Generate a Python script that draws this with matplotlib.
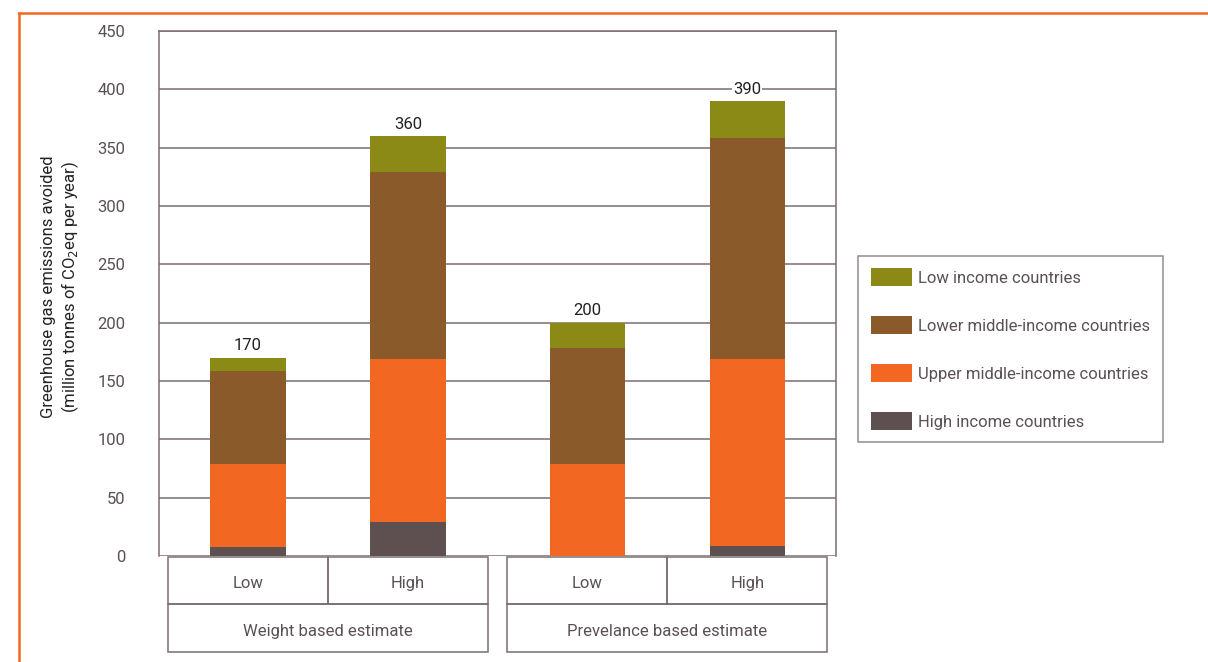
import numpy as np
import matplotlib
matplotlib.use("Agg")
import matplotlib.pyplot as plt
from matplotlib.lines import Line2D
from matplotlib.patches import Rectangle
import matplotlib.transforms as mtransforms

plt.rcParams['font.family'] = ['Roboto', 'DejaVu Sans']

# data (million tonnes CO2eq per year)
scenarios = ["Low", "High", "Low", "High"]
groups = ["Weight based estimate", "Prevelance based estimate"]
group_of = [0, 0, 1, 1]
series_names = ["High income countries", "Upper middle-income countries",
                "Lower middle-income countries", "Low income countries"]
high_income = [8, 29, 0, 9]
upper_middle = [71, 140, 79, 160]
lower_middle = [80, 160, 99, 189]
low_income = [11, 31, 22, 32]
totals = [170, 360, 200, 390]

colors = ["#5e4f50", "#f26722", "#8b5a2b", "#8c8a17"]
grey_txt = "#5b5052"
line_col = "#7a6e70"
orange = "#f26722"

fig = plt.figure(figsize=(12.08, 6.62), dpi=100)
ax = fig.add_axes([159 / 1208, 1 - 556 / 662, 677 / 1208, 525 / 662])

# bar positions: one unit per bar, extra gap between the two estimate groups
group_step = 2.12
x = np.array([g * group_step + (i % 2) for i, g in enumerate(group_of)])
width = 0.47

bottom = np.zeros(len(x))
bars = []
for vals, c, name in zip([high_income, upper_middle, lower_middle, low_income], colors, series_names):
    b = ax.bar(x, vals, width, bottom=bottom, color=c, label=name, zorder=3)
    bars.append(b)
    bottom += np.array(vals)

for xi, tot, top in zip(x, totals, bottom):
    ax.annotate(str(tot), (xi, top), xytext=(0, 3), textcoords="offset points",
                ha="center", va="bottom", fontsize=12, color="#222222", zorder=5,
                bbox=dict(facecolor="white", edgecolor="none", pad=0.5))

ax.set_xlim(-0.556, 3.675)
ax.set_ylim(0, 450)
ax.set_yticks(np.arange(0, 451, 50))
ax.tick_params(axis="y", length=0, pad=24, labelsize=12, labelcolor=grey_txt)
ax.set_xticks([])
ax.yaxis.grid(True, color=line_col, linewidth=1.1, zorder=0)
ax.set_axisbelow(True)
for s in ["left", "top", "right"]:
    ax.spines[s].set_color(line_col)
    ax.spines[s].set_linewidth(1.1)
ax.spines["bottom"].set_visible(False)

# category table under the bars
trans = mtransforms.blended_transform_factory(ax.transData, ax.transAxes)
row_top, row_mid, row_bot = -0.002, -0.0914, -0.183
txt_shift = -0.006
for xi, lab in zip(x, scenarios):
    ax.add_patch(Rectangle((xi - 0.5, row_mid), 1.0, row_top - row_mid, transform=trans,
                           fill=False, edgecolor=line_col, linewidth=1.1, clip_on=False))
    ax.text(xi, (row_top + row_mid) / 2 + txt_shift, lab, transform=trans, ha="center",
            va="center", fontsize=12, color=grey_txt)
for gi, gname in enumerate(groups):
    xs = x[np.array(group_of) == gi]
    x0, x1 = xs.min() - 0.5, xs.max() + 0.5
    ax.add_patch(Rectangle((x0, row_bot), x1 - x0, row_mid - row_bot, transform=trans,
                           fill=False, edgecolor=line_col, linewidth=1.1, clip_on=False))
    ax.text((x0 + x1) / 2, (row_mid + row_bot) / 2 + txt_shift, gname, transform=trans,
            ha="center", va="center", fontsize=12, color=grey_txt)

fig.text(61 / 1208, 1 - 287 / 662,
         "Greenhouse gas emissions avoided\n(million tonnes of CO$_2$eq per year)",
         rotation=90, ha="center", va="center", multialignment="center",
         fontsize=12, color="#222222", linespacing=1.2)

# legend, low income on top
handles = [bars[i] for i in [3, 2, 1, 0]]
labels = [series_names[i] for i in [3, 2, 1, 0]]
leg = fig.legend(handles, labels, loc="center left", bbox_to_anchor=(858 / 1208, 1 - 349 / 662),
                 fontsize=12, frameon=True, fancybox=False, edgecolor=line_col,
                 handlelength=2.5, handleheight=1.2, handletextpad=0.35,
                 labelspacing=1.85, borderpad=0.75, borderaxespad=0)
leg.get_frame().set_linewidth(1.1)
for t in leg.get_texts():
    t.set_color(grey_txt)

# orange page frame
fig.add_artist(Line2D([19 / 1208, 19 / 1208], [0, 1 - 13 / 662], color=orange, linewidth=1.8))
fig.add_artist(Line2D([19 / 1208, 1], [1 - 13 / 662, 1 - 13 / 662], color=orange, linewidth=1.8))

fig.savefig("out.png", dpi=100)
